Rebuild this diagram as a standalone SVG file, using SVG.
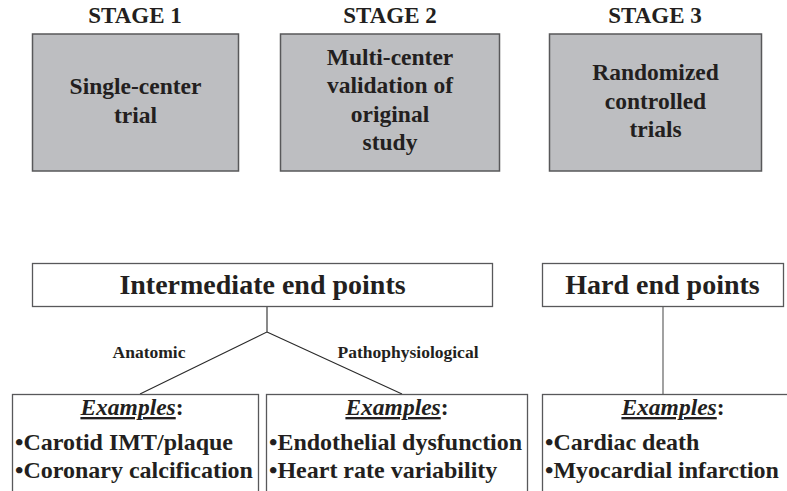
<svg xmlns="http://www.w3.org/2000/svg" width="787" height="491" viewBox="0 0 787 491">
  <style>
    text { font-family: "Liberation Serif", "Times New Roman", serif; font-weight: bold; fill: #231f20; }
    .stage { font-size: 23px; text-anchor: middle; }
    .boxtxt { font-size: 23.5px; text-anchor: middle; }
    .head { font-size: 28px; text-anchor: middle; }
    .branch { font-size: 17.5px; text-anchor: middle; }
    .ex { font-size: 23.5px; text-anchor: middle; }
    .ex .u { font-style: italic; text-decoration: underline; }
    .item { font-size: 24px; }
    .gray { fill: #bdbec1; stroke: #58585a; stroke-width: 1.5; }
    .frame { fill: #ffffff; stroke: #58585a; stroke-width: 1.3; }
    .link { fill: none; stroke: #2a2a2a; stroke-width: 1.1; }
    .link2 { fill: none; stroke: #7a7a7a; stroke-width: 1.4; }
  </style>

  <!-- study stages -->
  <g id="stage1">
    <text class="stage" x="135" y="23">STAGE 1</text>
    <rect class="gray" x="32.5" y="34" width="206" height="137"/>
    <text class="boxtxt" x="135.5" y="94">Single-center</text>
    <text class="boxtxt" x="135.5" y="123">trial</text>
  </g>
  <g id="stage2">
    <text class="stage" x="390" y="23">STAGE 2</text>
    <rect class="gray" x="280.5" y="34" width="219" height="137"/>
    <text class="boxtxt" x="390" y="65">Multi-center</text>
    <text class="boxtxt" x="390" y="93">validation of</text>
    <text class="boxtxt" x="390" y="122">original</text>
    <text class="boxtxt" x="390" y="150">study</text>
  </g>
  <g id="stage3">
    <text class="stage" x="655" y="23">STAGE 3</text>
    <rect class="gray" x="549.5" y="34" width="212" height="137"/>
    <text class="boxtxt" x="655.5" y="80">Randomized</text>
    <text class="boxtxt" x="655.5" y="109">controlled</text>
    <text class="boxtxt" x="655.5" y="137">trials</text>
  </g>

  <!-- connectors -->
  <g id="connectors">
    <path class="link" d="M267 307 V332 L140 394 M267 332 L402 394"/>
    <path class="link2" d="M663 307 V394"/>
  </g>

  <!-- end point categories -->
  <g id="intermediate">
    <rect class="frame" x="32.5" y="263.5" width="460" height="43"/>
    <text class="head" x="262.5" y="294">Intermediate end points</text>
  </g>
  <g id="hard">
    <rect class="frame" x="542.5" y="263.5" width="241" height="43"/>
    <text class="head" x="662.5" y="294">Hard end points</text>
  </g>

  <g id="label-anatomic">
    <text class="branch" x="149" y="358">Anatomic</text>
  </g>
  <g id="label-patho">
    <text class="branch" x="408" y="358">Pathophysiological</text>
  </g>

  <!-- example lists -->
  <g id="examples-anatomic">
    <rect class="frame" x="12.5" y="394.5" width="246" height="110"/>
    <text class="ex" x="132" y="415"><tspan class="u">Examples</tspan>:</text>
    <text class="item" x="15" y="450">•Carotid IMT/plaque</text>
    <text class="item" x="15" y="478">•Coronary calcification</text>
  </g>
  <g id="examples-patho">
    <rect class="frame" x="266.5" y="394.5" width="261" height="110"/>
    <text class="ex" x="397" y="415"><tspan class="u">Examples</tspan>:</text>
    <text class="item" x="269" y="450">•Endothelial dysfunction</text>
    <text class="item" x="269" y="478">•Heart rate variability</text>
  </g>
  <g id="examples-hard">
    <rect class="frame" x="542.5" y="394.5" width="260" height="110"/>
    <text class="ex" x="673" y="415"><tspan class="u">Examples</tspan>:</text>
    <text class="item" x="545" y="450">•Cardiac death</text>
    <text class="item" x="545" y="478">•Myocardial infarction</text>
  </g>
</svg>
